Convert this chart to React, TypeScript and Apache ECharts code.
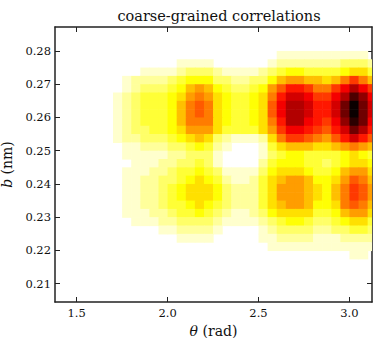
import React, { useEffect, useRef } from "react";
import * as echarts from "echarts";

// bin centres (theta in rad, b in nm)
const thetaCenters: number[] = [
  1.425, 1.475, 1.525, 1.575, 1.625, 1.675, 1.725, 1.775, 1.825, 1.875, 1.925, 1.975,
  2.025, 2.075, 2.125, 2.175, 2.225, 2.275, 2.325, 2.375, 2.425, 2.475, 2.525, 2.575,
  2.625, 2.675, 2.725, 2.775, 2.825, 2.875, 2.925, 2.975, 3.025, 3.075, 3.125,
];
const bCenters: number[] = [
  0.28625, 0.28375, 0.28125, 0.27875, 0.27625, 0.27375, 0.27125, 0.26875, 0.26625,
  0.26375, 0.26125, 0.25875, 0.25625, 0.25375, 0.25125, 0.24875, 0.24625, 0.24375,
  0.24125, 0.23875, 0.23625, 0.23375, 0.23125, 0.22875, 0.22625, 0.22375, 0.22125,
  0.21875, 0.21625, 0.21375, 0.21125, 0.20875, 0.20625,
];
// density per bin, one string per b row (top to bottom), one base-36 digit per theta column (0..k = 0..20)
const densityRows: string[] = [
  "00000000000000000000000000000000000",
  "00000000000000000000000000000000000",
  "00000000000000000000000000000000000",
  "00000000000000000000000011111111110",
  "00000000000001111000000122222223332",
  "00000000011112333211112345544445664",
  "00000001222234555332233578877679b97",
  "000000012333457875433458accb99bdfdb",
  "000000123444568986544569ceedbbdfigd",
  "000000123444579a9654456adffeccehkhe",
  "000000123444579a9654456adffeccehkhe",
  "000000123444579996544569cffdcbdgjhd",
  "000000123344568886444468bddcbacehfc",
  "0000001223334567632111269bba98aceca",
  "00000001122233454210001467776678987",
  "00000001111122333100001345544445654",
  "00000000111223343100002455544345665",
  "00000001112234454311113566654457886",
  "00000001122334565421124678875568a97",
  "00000001122345666532224688876579ba8",
  "00000001122345666532224688876579ba8",
  "00000001122344565432224678875569a97",
  "00000001112234454321123566664457886",
  "00000000111223333211112345543345664",
  "00000000000112222100001233332233443",
  "00000000000001111000001122221112222",
  "00000000000000000000000111111111111",
  "00000000000000000000000000000000110",
  "00000000000000000000000000000000000",
  "00000000000000000000000000000000000",
  "00000000000000000000000000000000000",
  "00000000000000000000000000000000000",
  "00000000000000000000000000000000000",
];
const densityMax = 20;
const xTicks: number[] = [1.5, 2.0, 2.5, 3.0];
const yTicks: number[] = [0.21, 0.22, 0.23, 0.24, 0.25, 0.26, 0.27, 0.28];

const binW = 0.05;
const binH = 0.0025;
const FONT = "DejaVu Serif";

function hotR(t: number): string {
  const s = 1 - Math.min(1, Math.max(0, t));
  const a = 0.365079;
  const c = 0.746032;
  const r = s < a ? 0.0416 + (1 - 0.0416) * (s / a) : 1;
  const g = s < a ? 0 : s < c ? (s - a) / (c - a) : 1;
  const b = s < c ? 0 : (s - c) / (1 - c);
  return `rgb(${Math.round(r * 255)},${Math.round(g * 255)},${Math.round(b * 255)})`;
}

export default function App() {
  const ref = useRef<HTMLDivElement>(null);
  useEffect(() => {
    if (!ref.current) return;
    const chart = echarts.init(ref.current, undefined, { renderer: "svg" });
    const data: number[][] = [];
    densityRows.forEach((row, i) => {
      for (let j = 0; j < row.length; j++) {
        const v = parseInt(row[j], 36);
        if (v > 0) data.push([thetaCenters[j], bCenters[i], v]);
      }
    });
    const axisLine = { show: true, lineStyle: { color: "#222", width: 1.5 } };
    const tick = { show: true, inside: true, length: 5, lineStyle: { color: "#222", width: 1 } };
    const labelStyle = { fontFamily: FONT, fontSize: 11.5, color: "#111" };
    const nameStyle = {
      fontFamily: FONT,
      fontSize: 14,
      color: "#111",
      rich: { i: { fontFamily: FONT, fontSize: 14, fontStyle: "italic", color: "#111" } },
    };
    chart.setOption({
      animation: false,
      backgroundColor: "#fff",
      title: {
        text: "coarse-grained correlations",
        left: 214,
        top: 3,
        textAlign: "center",
        textStyle: { fontFamily: FONT, fontSize: 14.5, fontWeight: "normal", color: "#111" },
      },
      grid: {
        left: 55,
        top: 27,
        width: 317,
        height: 275,
        containLabel: false,
        outerBoundsMode: "none",
      },
      xAxis: [
        {
          type: "value",
          min: 1.381,
          max: 3.124,
          position: "bottom",
          axisLine,
          splitLine: { show: false },
          axisTick: { ...tick, customValues: xTicks },
          axisLabel: { ...labelStyle, margin: 5, customValues: xTicks, formatter: (v: number) => v.toFixed(1) },
          name: "{i|θ} (rad)",
          nameLocation: "middle",
          nameGap: 18,
          nameTextStyle: nameStyle,
        },
        {
          type: "value",
          min: 1.381,
          max: 3.124,
          position: "top",
          axisLine,
          splitLine: { show: false },
          axisTick: { ...tick, customValues: xTicks },
          axisLabel: { show: false },
        },
      ],
      yAxis: [
        {
          type: "value",
          min: 0.2045,
          max: 0.2872,
          position: "left",
          axisLine,
          splitLine: { show: false },
          axisTick: { ...tick, customValues: yTicks },
          axisLabel: { ...labelStyle, margin: 4, customValues: yTicks, formatter: (v: number) => v.toFixed(2) },
          name: "{i|b} (nm)",
          nameLocation: "middle",
          nameGap: 35,
          nameTextStyle: nameStyle,
        },
        {
          type: "value",
          min: 0.2045,
          max: 0.2872,
          position: "right",
          axisLine,
          splitLine: { show: false },
          axisTick: { ...tick, customValues: yTicks },
          axisLabel: { show: false },
        },
      ],
      series: [
        {
          type: "custom",
          xAxisIndex: 0,
          yAxisIndex: 0,
          dimensions: ["theta", "b", "density"],
          encode: { x: 0, y: 1 },
          data,
          z: 1,
          renderItem: (params: any, api: any) => {
            const x = api.value(0);
            const y = api.value(1);
            const v = api.value(2);
            const p0 = api.coord([x - binW / 2, y + binH / 2]);
            const p1 = api.coord([x + binW / 2, y - binH / 2]);
            const rect = echarts.graphic.clipRectByRect(
              { x: p0[0], y: p0[1], width: p1[0] - p0[0] + 0.6, height: p1[1] - p0[1] + 0.6 },
              {
                x: params.coordSys.x,
                y: params.coordSys.y,
                width: params.coordSys.width,
                height: params.coordSys.height,
              }
            );
            if (!rect) return null;
            return {
              type: "rect",
              shape: rect,
              style: { fill: hotR(v / densityMax), stroke: null },
            };
          },
        },
      ],
    });
    return () => chart.dispose();
  }, []);
  return (
    <div
      ref={ref}
      style={{ position: "absolute", left: 0, top: 0, width: 373, height: 338 }}
    />
  );
}
